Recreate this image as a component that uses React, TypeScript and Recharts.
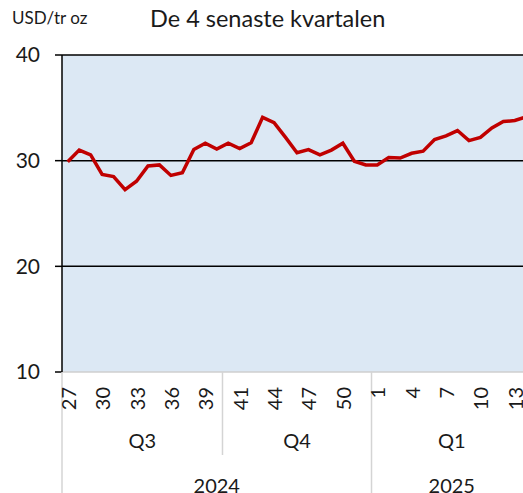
import React from "react";
import { LineChart, Line, XAxis, YAxis, CartesianGrid } from "recharts";

// Silver price, USD per troy ounce, weekly, last 4 quarters
const values: number[] = [
  29.9, 31.0, 30.55, 28.7, 28.5, 27.25, 28.05, 29.5, 29.6, 28.6, 28.85, 31.05, 31.65, 31.1,
  31.65, 31.15, 31.7, 34.1, 33.6, 32.2, 30.75, 31.05, 30.55, 31.0, 31.65, 29.95, 29.6,
  29.6, 30.3, 30.25, 30.7, 30.9, 32.0, 32.35, 32.85, 31.9, 32.2, 33.1, 33.7, 33.8, 34.15,
];

const weekTickIndex: number[] = [0, 3, 6, 9, 12, 15, 18, 21, 24, 27, 30, 33, 36, 39];
const weekTickLabels: string[] = ["27", "30", "33", "36", "39", "41", "44", "47", "50", "1", "4", "7", "10", "13"];

const quarterLabels: string[] = ["Q3", "Q4", "Q1"];
const quarterStarts: number[] = [0, 14, 27];
const yearLabels: string[] = ["2024", "2025"];
const yearStarts: number[] = [0, 27];

const yTicks: number[] = [10, 20, 30, 40];

const FONT = "Lato, 'Liberation Sans', sans-serif";
const TEXT = "#1a1a1a";

const data = values.map((v, i) => ({ i, v }));
const lastIdx = values.length - 1;

type TickInfo = { week?: string; sep?: "q" | "y"; quarter?: string; year?: string };
const tickInfo = new Map<number, TickInfo>();
const getInfo = (k: number) => {
  if (!tickInfo.has(k)) tickInfo.set(k, {});
  return tickInfo.get(k)!;
};
weekTickIndex.forEach((idx, n) => (getInfo(idx).week = weekTickLabels[n]));
quarterStarts.forEach((s, n) => {
  const end = n + 1 < quarterStarts.length ? quarterStarts[n + 1] - 1 : lastIdx;
  const isYear = yearStarts.includes(s);
  getInfo(s - 0.5).sep = isYear ? "y" : "q";
  getInfo((s - 0.5 + end + 0.5) / 2).quarter = quarterLabels[n];
});
yearStarts.forEach((s, n) => {
  const end = n + 1 < yearStarts.length ? yearStarts[n + 1] - 1 : lastIdx;
  getInfo((s - 0.5 + end + 0.5) / 2).year = yearLabels[n];
});
const xTicks = Array.from(tickInfo.keys()).sort((a, b) => a - b);

const XTick = (props: any) => {
  const { x, y, payload } = props;
  const info = tickInfo.get(payload.value) || {};
  return (
    <g>
      {info.sep && (
        <line x1={x} x2={x} y1={y} y2={info.sep === "y" ? y + 125 : y + 83} stroke="#d4d4d4" strokeWidth={1.5} />
      )}
      {info.week && (
        <text
          x={x}
          y={y + 15}
          transform={`rotate(-90, ${x}, ${y + 15})`}
          textAnchor="end"
          dominantBaseline="central"
          fontFamily={FONT}
          fontSize={20}
          fill={TEXT}
        >
          {info.week}
        </text>
      )}
      {info.quarter && (
        <text x={x} y={y + 68} textAnchor="middle" dominantBaseline="central" fontFamily={FONT} fontSize={20} fill={TEXT}>
          {info.quarter}
        </text>
      )}
      {info.year && (
        <text x={x} y={y + 113} textAnchor="middle" dominantBaseline="central" fontFamily={FONT} fontSize={20} fill={TEXT}>
          {info.year}
        </text>
      )}
    </g>
  );
};

export default function App() {
  return (
    <div style={{ position: "absolute", left: 0, top: 0, width: 523, height: 493, overflow: "hidden", background: "#fff" }}>
      <svg width={523} height={50} style={{ position: "absolute", left: 0, top: 0 }}>
        <text x={12} y={24} fontFamily={FONT} fontSize={17} fill={TEXT}>
          USD/tr oz
        </text>
        <text x={150} y={27} fontFamily={FONT} fontSize={23.5} fill={TEXT}>
          De 4 senaste kvartalen
        </text>
      </svg>
      <div style={{ position: "absolute", left: 0, top: 0 }}>
        <LineChart width={532} height={493} data={data} margin={{ top: 55, right: 0, bottom: 0, left: 0 }}>
          <CartesianGrid
            vertical={false}
            horizontalValues={[20, 30, 40]}
            stroke="#000"
            strokeWidth={1.5}
            fill="#dce8f4"
          />
          <XAxis
            dataKey="i"
            type="number"
            domain={[-0.5, lastIdx + 0.5]}
            ticks={xTicks}
            interval={0}
            height={121}
            tickSize={0}
            tickMargin={0}
            tickLine={false}
            axisLine={{ stroke: "#cfcfcf", strokeWidth: 1.5 }}
            tick={<XTick />}
            allowDecimals
          />
          <YAxis
            domain={[10, 40]}
            ticks={yTicks}
            width={62}
            tickSize={7}
            tickMargin={15}
            axisLine={{ stroke: "#000", strokeWidth: 1.5 }}
            tickLine={{ stroke: "#000", strokeWidth: 1.5 }}
            tick={{ fontFamily: FONT, fontSize: 21, fill: TEXT }}
          />
          <Line
            type="linear"
            dataKey="v"
            stroke="#c00000"
            strokeWidth={3.5}
            dot={false}
            isAnimationActive={false}
          />
        </LineChart>
      </div>
    </div>
  );
}
